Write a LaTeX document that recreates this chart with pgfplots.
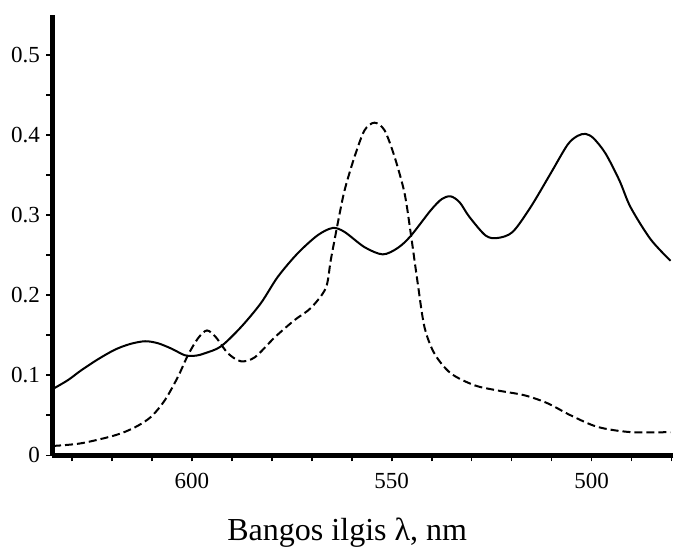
\documentclass[border=0pt]{standalone}
\usepackage{pgfplots}
\pgfplotsset{compat=1.18}
\usepackage{fontspec}
\setmainfont{Liberation Serif}

% solid curve
\pgfplotstableread{
lam   A
634.75 0.083
631    0.094
627.75 0.106
623.5  0.120
619.25 0.132
615.5  0.139
611.75 0.1425
608.5  0.140
605    0.133
601.75 0.125
599    0.1245
596.75 0.1275
592.75 0.136
587.75 0.160
582.75 0.190
578.5  0.223
573.5  0.2525
568.5  0.275
564.75 0.284
561.8  0.279
556.8  0.260
552.25 0.251
548.5  0.259
545.25 0.274
540.25 0.306
537.5  0.320
535.25 0.3235
533    0.316
530.6  0.298
526.5  0.2745
523.5  0.2715
519.75 0.279
515.25 0.310
510.25 0.352
506    0.388
503.5  0.399
501.5  0.4015
499.5  0.396
496.5  0.377
493    0.343
490.25 0.310
485.25 0.270
480.25 0.243
}\solid

% dashed curve
\pgfplotstableread{
lam   A
634.75 0.0117
627.75 0.015
619.25 0.025
614.25 0.035
610.25 0.048
606.75 0.069
603.5  0.098
601    0.125
598.5  0.146
596.25 0.156
594    0.1475
591    0.1275
587.75 0.1175
584.25 0.1225
579.25 0.1475
574.3  0.169
570.25 0.184
566.5  0.209
565.25 0.244
563.5  0.290
561.8  0.331
559.3  0.373
556.8  0.406
554.3  0.4155
551.8  0.406
549.3  0.373
546.8  0.3275
545.25 0.2775
543.5  0.215
541.8  0.160
539.3  0.127
535.25 0.1025
529.3  0.0875
523.5  0.081
516.8  0.075
511    0.065
505.25 0.050
498.5  0.0355
490.25 0.029
480.25 0.029
}\dashed

\begin{document}
\begin{tikzpicture}
\begin{axis}[
    scale only axis,
    width=310.5pt, height=220pt,
    x dir=reverse,
    xmin=479.5, xmax=635,
    ymin=0, ymax=0.55,
    axis x line=bottom, axis y line=left,
    axis line style={line width=2.5pt, -},
    xtick={500,550,600},
    minor xtick={480,490,...,630},
    ytick={0,0.1,...,0.5},
    minor ytick={0.05,0.15,...,0.45},
    tick align=outside,
    major tick length=3pt, minor tick length=3pt,
    tick style={black, line width=0.8pt},
    /pgf/number format/assume math mode=true,
    /pgf/number format/fixed,
    xticklabel style={font=\fontsize{11.5}{13}\selectfont, yshift=-2.5pt},
    yticklabel style={font=\fontsize{11.5}{13}\selectfont, xshift=0.5pt},
    xlabel={Bangos ilgis λ, nm},
    xlabel style={font=\fontsize{16}{18}\selectfont, at={(axis description cs:0.475,0)}, anchor=north, inner sep=0pt, yshift=-31pt},
    clip=false,
]
\addplot[black, line width=1pt, smooth] table[x=lam, y=A] {\solid};
\addplot[black, line width=1pt, smooth, dash pattern=on 4pt off 2pt] table[x=lam, y=A] {\dashed};
\end{axis}
\path ([yshift=7.5pt]current axis.north west);
\path ([xshift=-26pt]current axis.south west);
\end{tikzpicture}
\end{document}
